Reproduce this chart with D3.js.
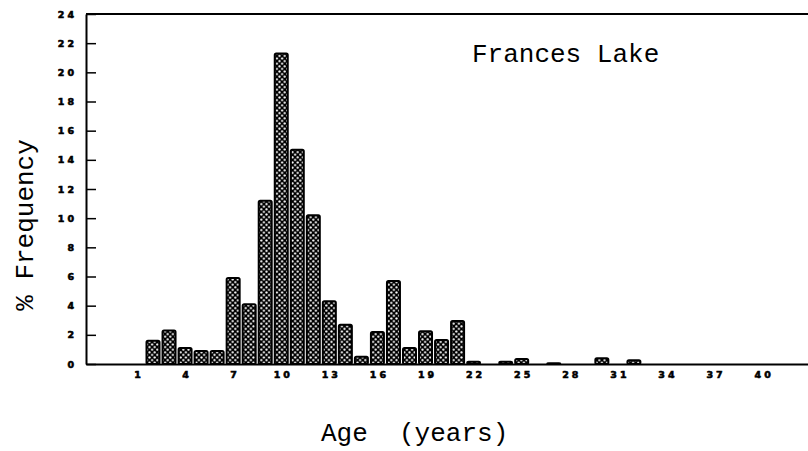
<!DOCTYPE html>
<html>
<head>
<meta charset="utf-8">
<script src="https://cdn.jsdelivr.net/npm/d3@7"></script>
<style>
  html, body { margin: 0; padding: 0; background: #fff; }
  svg { display: block; }
  .tick text { font-family: "DejaVu Sans", sans-serif; font-weight: 900; font-size: 9.5px; letter-spacing: 3px; fill: #000; stroke: #000; stroke-width: 0.6px; }
  .lbl { font-family: "Courier New", "Liberation Mono", monospace; fill: #000; }
</style>
</head>
<body>
<svg id="chart" width="808" height="451"></svg>
<script>
// Data: age (years) and % frequency, Frances Lake
const ages = [1,2,3,4,5,6,7,8,9,10,11,12,13,14,15,16,17,18,19,20,21,22,23,24,25,26,27,28,29,30,31,32];
const freq = [0,1.6,2.3,1.1,0.9,0.9,5.9,4.1,11.2,21.3,14.7,10.2,4.3,2.7,0.5,2.2,5.7,1.1,2.25,1.65,2.95,0.15,0,0.15,0.35,0,0.05,0,0,0.4,0,0.25];
const xTickValues = [1,4,7,10,13,16,19,22,25,28,31,34,37,40];
const yTickValues = [0,2,4,6,8,10,12,14,16,18,20,22,24];
const title = "Frances Lake";
const xTitle = "Age  (years)";
const yTitle = "% Frequency";

const svg = d3.select("#chart");
const mLeft = 86, mRight = 808, mTop = 14, mBottom = 364;

const x = d3.scaleLinear().domain([-2.18, 42.86]).range([mLeft, mRight]);
const y = d3.scaleLinear().domain([0, 24]).range([mBottom, mTop]);
const barW = 13;

// dotted pattern
const defs = svg.append("defs");
const pat = defs.append("pattern")
  .attr("id", "dots").attr("patternUnits", "userSpaceOnUse")
  .attr("width", 5.2).attr("height", 5.2);
pat.append("rect").attr("width", 5.2).attr("height", 5.2).attr("fill", "#000");
pat.append("circle").attr("cx", 1.3).attr("cy", 1.3).attr("r", 1.1).attr("fill", "#fff");
pat.append("circle").attr("cx", 3.9).attr("cy", 3.9).attr("r", 1.1).attr("fill", "#fff");

// bars
svg.append("g").selectAll("rect")
  .data(ages.map((a, i) => ({a, v: freq[i]})).filter(d => d.v > 0))
  .join("rect")
  .attr("x", d => x(d.a) - barW / 2)
  .attr("width", barW)
  .attr("y", d => y(d.v))
  .attr("height", d => y(0) - y(d.v))
  .attr("fill", "url(#dots)")
  .attr("stroke", "#000")
  .attr("stroke-width", 2)
  .attr("rx", 1.5);

// top frame line
svg.append("line").attr("x1", mLeft).attr("x2", mRight).attr("y1", mTop).attr("y2", mTop)
  .attr("stroke", "#000").attr("stroke-width", 2);

// y axis
const yAxis = svg.append("g").attr("transform", `translate(${mLeft},0)`)
  .call(d3.axisLeft(y).tickValues(yTickValues).tickSize(-10).tickSizeOuter(0).tickPadding(9));
yAxis.select(".domain").attr("stroke-width", 2);
yAxis.selectAll(".tick line").attr("stroke-width", 1.5);

// x axis
const xAxis = svg.append("g").attr("transform", `translate(0,${mBottom})`)
  .call(d3.axisBottom(x).tickValues(xTickValues).tickSize(0).tickPadding(7));
xAxis.select(".domain").attr("stroke-width", 2);
xAxis.selectAll(".tick text").attr("dx", "1.5px");

// titles
svg.append("text").attr("class", "lbl").attr("x", 472).attr("y", 62)
  .attr("font-size", 26).text(title);
svg.append("text").attr("class", "lbl").attr("x", 321).attr("y", 441)
  .attr("font-size", 26).attr("xml:space", "preserve").style("white-space", "pre").text(xTitle);
svg.append("text").attr("class", "lbl")
  .attr("transform", "translate(33,225) rotate(-90)")
  .attr("text-anchor", "middle")
  .attr("font-size", 26).text(yTitle);
</script>
</body>
</html>
